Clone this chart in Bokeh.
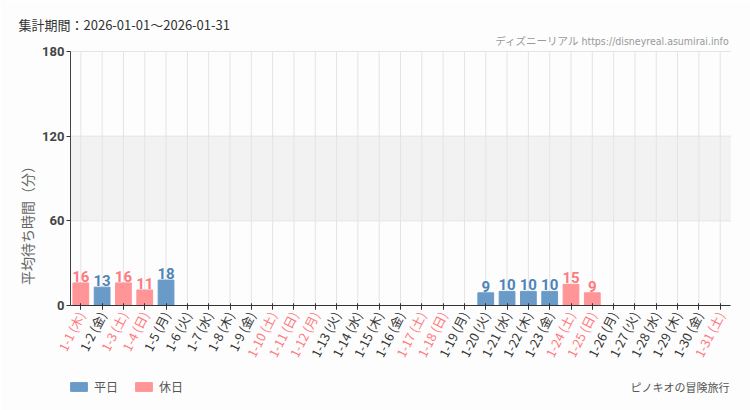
from bokeh.plotting import figure
from bokeh.models import (ColumnDataSource, FactorRange, Range1d, FixedTicker, LabelSet, Label,
                          Legend, LegendItem, CategoricalAxis, LinearAxis, CustomLabelingPolicy)
from bokeh.core.properties import value
from bokeh.embed import file_html
from bokeh.resources import INLINE

# ---- data ----
dates = ["1-%d" % d for d in range(1, 32)]
weekdays = ["木", "金", "土", "日", "月", "火", "水", "木", "金", "土", "日", "月", "火", "水", "木", "金",
            "土", "日", "月", "火", "水", "木", "金", "土", "日", "月", "火", "水", "木", "金", "土"]
holiday = [1, 0, 1, 1, 0, 0, 0, 0, 0, 1, 1, 1, 0, 0, 0, 0,
           1, 1, 0, 0, 0, 0, 0, 1, 1, 0, 0, 0, 0, 0, 1]
waits = [16, 13, 16, 11, 18, None, None, None, None, None, None, None, None, None, None, None,
         None, None, None, 9, 10, 10, 10, 15, 9, None, None, None, None, None, None]
y_ticks = [0, 60, 120, 180]
band = [60, 120]
title_text = "集計期間：2026-01-01～2026-01-31"
credit_text = "ディズニーリアル https://disneyreal.asumirai.info"
attraction = "ピノキオの冒険旅行"
y_title = "平均待ち時間（分）"
series_names = ["平日", "休日"]

BG = "#fcfdfc"
BLUE = "#6a9bc8"
PINK = "#ff9597"
BLUE_T = "#4f83b8"
PINK_T = "#ff7a7f"
DARK_T = "#333333"
GRID = "#e4e4e4"
JP = "Noto Sans CJK JP"
NUM = "Roboto"
NARROW = "DejaVu Sans Condensed, Roboto Condensed, Noto Sans CJK JP"

# ---- layout (page pixels) ----
W, H = 750, 410
PLOT_L, PLOT_R = 70, 731          # edges of the category area
Y180, Y0 = 51, 305                # rows of the 180 and 0 lines
FRAME_T = 33
n = len(dates)
cat_w = (PLOT_R - PLOT_L) / n
FRAME_L = int(PLOT_L - cat_w / 2)
FRAME_W = round(cat_w * (n + 1))
px_per_unit = (Y0 - Y180) / (y_ticks[-1] - y_ticks[0])
y_top = y_ticks[-1] + (Y180 - FRAME_T) / px_per_unit
y_bot = y_ticks[0] - (H - Y0) / px_per_unit

factors = ["%s (%s)" % (d, w) for d, w in zip(dates, weekdays)]
left_edge = (factors[0], -0.5)
right_edge = (factors[-1], 0.5)

p = figure(width=W, height=H,
           x_range=FactorRange(factors=factors, range_padding=0.5, range_padding_units="absolute"),
           y_range=Range1d(y_bot, y_top), output_backend="svg", toolbar_location=None,
           min_border_left=FRAME_L, min_border_right=W - FRAME_L - FRAME_W,
           min_border_top=FRAME_T, min_border_bottom=0)
p.background_fill_color = BG
p.border_fill_color = BG
p.outline_line_color = None
p.grid.visible = False

p.title.text = title_text
p.title.align = "left"
p.title.offset = 20 - FRAME_L - 2
p.title.standoff = 0
p.title.text_font = JP
p.title.text_font_size = "13px"
p.title.text_font_style = "normal"
p.title.text_color = "#333333"

# background band and grid lines over the category area
p.quad(left=[left_edge], right=[right_edge], bottom=[band[0]], top=[band[1]],
       fill_color="#f2f2f2", line_color=None, level="underlay")
p.segment(x0=[left_edge] * len(y_ticks), y0=y_ticks, x1=[right_edge] * len(y_ticks), y1=y_ticks,
          line_color=GRID, line_width=1, level="underlay")
p.segment(x0=factors, y0=[y_ticks[0]] * n, x1=factors, y1=[y_ticks[-1]] * n,
          line_color=GRID, line_width=1, level="underlay")

wk = dict(x=[], top=[], lab=[])
hd = dict(x=[], top=[], lab=[])
for f, h, v in zip(factors, holiday, waits):
    if v is None:
        continue
    d = hd if h else wk
    d["x"].append(f); d["top"].append(v); d["lab"].append(str(v))
src_w = ColumnDataSource(wk)
src_h = ColumnDataSource(hd)
rw = p.vbar(x="x", top="top", width=0.74, source=src_w, fill_color=BLUE, line_color=BLUE)
rh = p.vbar(x="x", top="top", width=0.74, source=src_h, fill_color=PINK, line_color=PINK)
for s, c in ((src_w, BLUE_T), (src_h, PINK_T)):
    p.add_layout(LabelSet(x="x", y="top", text="lab", source=s, y_offset=1, text_align="center",
                          text_baseline="bottom", text_color=c, text_font=value(NUM),
                          text_font_size="15px", text_font_style="bold"))

# credit (top right) and attraction name (bottom right)
p.add_layout(Label(x=729 - FRAME_L, y=H - 40, x_units="screen", y_units="screen", text=credit_text,
                   text_font=NARROW, text_font_size="10.5px", text_color="#999999",
                   text_align="right", text_baseline="middle"))
p.add_layout(Label(x=729 - FRAME_L, y=H - 386, x_units="screen", y_units="screen", text=attraction,
                   text_font=JP, text_font_size="11px", text_color="#555555",
                   text_align="right", text_baseline="middle"))


def keep_policy(flags, want):
    keep = [1 if f == want else 0 for f in flags]
    code = ("const keep = %s; const out = []; "
            "for (const i of indices) { if (keep[i] === 1) out.push(i) } "
            "return out" % keep)
    return CustomLabelingPolicy(code=code)


def style_x(ax, color):
    ax.fixed_location = y_ticks[0]
    ax.bounds = (0, n)
    ax.major_label_orientation = 1.1
    ax.major_label_text_font = JP
    ax.major_label_text_font_size = "12.5px"
    ax.major_label_text_color = color
    ax.major_label_standoff = 3
    ax.axis_line_color = "#333333"
    ax.major_tick_line_color = "#333333"
    ax.major_tick_in = 2
    ax.major_tick_out = 4
    ax.minor_tick_line_color = None


# weekday labels (dark) and holiday labels (pink) on two axes drawn at the 0 line
xa = p.xaxis[0]
style_x(xa, DARK_T)
xa.major_label_policy = keep_policy(holiday, 0)
xb = CategoricalAxis()
style_x(xb, PINK_T)
xb.axis_line_color = None
xb.major_label_policy = keep_policy(holiday, 1)
p.add_layout(xb, "below")

# y axis: labels + title in the left margin, line + ticks at the edge of the category area
ya = p.yaxis[0]
ya.ticker = FixedTicker(ticks=y_ticks)
ya.bounds = (y_ticks[0], y_ticks[-1])
ya.axis_line_color = None
ya.major_tick_line_color = None
ya.major_tick_in = 0
ya.major_tick_out = 0
ya.minor_tick_line_color = None
ya.major_label_text_font = NUM
ya.major_label_text_font_style = "bold"
ya.major_label_text_font_size = "13px"
ya.major_label_text_color = "#444444"
ya.major_label_standoff = FRAME_L - PLOT_L + 6
ya.axis_label = y_title
ya.axis_label_text_font = JP
ya.axis_label_text_font_style = "normal"
ya.axis_label_text_font_size = "14px"
ya.axis_label_text_color = "#666666"
ya.axis_label_standoff = 2

yb = LinearAxis(fixed_location=0, ticker=FixedTicker(ticks=y_ticks), bounds=(y_ticks[0], y_ticks[-1]))
yb.axis_line_color = "#444444"
yb.major_tick_line_color = "#333333"
yb.major_tick_in = 0
yb.major_tick_out = 4
yb.minor_tick_line_color = None
yb.major_label_text_alpha = 0
yb.major_label_text_font_size = "1px"
p.add_layout(yb, "left")

legend = Legend(items=[LegendItem(label=series_names[0], renderers=[rw]),
                       LegendItem(label=series_names[1], renderers=[rh])],
                location=(PLOT_L - FRAME_L - 2, H - 395), orientation="horizontal", padding=0, margin=0,
                background_fill_alpha=0, border_line_color=None,
                label_text_font=JP, label_text_font_size="12px", label_text_color="#555555",
                glyph_width=21, glyph_height=11, label_height=11, spacing=15, label_standoff=5)
p.add_layout(legend)

open("out.html", "w").write(file_html(p, INLINE))
